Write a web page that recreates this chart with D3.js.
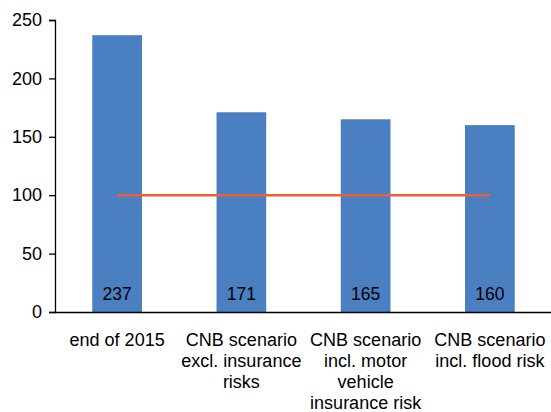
<!DOCTYPE html>
<html>
<head>
<meta charset="utf-8">
<script src="https://d3js.org/d3.v7.min.js"></script>
<style>
  body { margin: 0; background: #fff; }
  text { font-family: "Liberation Sans", Arial, sans-serif; fill: #000; }
</style>
</head>
<body>
<div id="cont"></div>
<script>
var categories = [
    ["end of 2015"],
    ["CNB scenario", "excl. insurance", "risks"],
    ["CNB scenario", "incl. motor", "vehicle", "insurance risk"],
    ["CNB scenario", "incl. flood risk"]
];
var values = [237, 171, 165, 160];
var threshold = [100, 100, 100, 100];
var yTicks = [0, 50, 100, 150, 200, 250];

var width = 551, height = 412;
var margin = {left: 55, right: 0, top: 20, bottom: 100};

var svg = d3.select("#cont").append("svg")
    .attr("width", width)
    .attr("height", height);

var x = d3.scaleBand()
    .domain(d3.range(values.length))
    .range([margin.left, 552])
    .paddingInner(0.6)
    .paddingOuter(0.3);

var xc = d3.scaleBand()
    .domain(d3.range(values.length))
    .range([margin.left, 552]);

var y = d3.scaleLinear()
    .domain([0, 250])
    .range([312, 20]);

// bars
svg.selectAll("rect.bar")
    .data(values)
    .enter().append("rect")
    .attr("class", "bar")
    .attr("x", function(d, i) { return x(i); })
    .attr("y", function(d) { return y(d); })
    .attr("width", x.bandwidth())
    .attr("height", function(d) { return y(0) - y(d); })
    .attr("fill", "#4A7FC1");

// value labels
svg.selectAll("text.val")
    .data(values)
    .enter().append("text")
    .attr("class", "val")
    .attr("x", function(d, i) { return x(i) + x.bandwidth() / 2; })
    .attr("y", y(0) - 12)
    .attr("text-anchor", "middle")
    .style("font-size", "17.5px")
    .text(function(d) { return d; });

// threshold line
var line = d3.line()
    .x(function(d, i) { return xc(i) + xc.bandwidth() / 2; })
    .y(function(d) { return y(d); });

svg.append("path")
    .datum(threshold)
    .attr("d", line)
    .attr("fill", "none")
    .attr("stroke", "#E8603C")
    .attr("stroke-width", 2.5);

// y axis
var yAxis = svg.append("g")
    .attr("transform", "translate(" + margin.left + ",0)")
    .call(d3.axisLeft(y).tickValues(yTicks).tickSize(6).tickPadding(7));
yAxis.select(".domain").attr("stroke", "#000").attr("stroke-width", 1.3);
yAxis.selectAll(".tick line").attr("stroke", "#000").attr("stroke-width", 1.3);
yAxis.selectAll(".tick text")
    .style("font-size", "18px")
    .style("font-family", "'Liberation Sans', Arial, sans-serif")
    .attr("fill", "#000");

// x axis
var xAxis = svg.append("g")
    .attr("transform", "translate(0," + y(0) + ")")
    .call(d3.axisBottom(xc).tickSize(0).tickFormat(""));
xAxis.select(".domain").attr("stroke", "#000").attr("stroke-width", 1.3);

// category labels
svg.selectAll("text.cat")
    .data(categories)
    .enter().append("text")
    .attr("class", "cat")
    .attr("text-anchor", "middle")
    .style("font-size", "18px")
    .attr("transform", function(d, i) {
        return "translate(" + (xc(i) + xc.bandwidth() / 2) + ",346)";
    })
    .selectAll("tspan")
    .data(function(d) { return d; })
    .enter().append("tspan")
    .attr("x", 0)
    .attr("dy", function(d, j) { return j === 0 ? 0 : 21; })
    .text(function(d) { return d; });
</script>
</body>
</html>
